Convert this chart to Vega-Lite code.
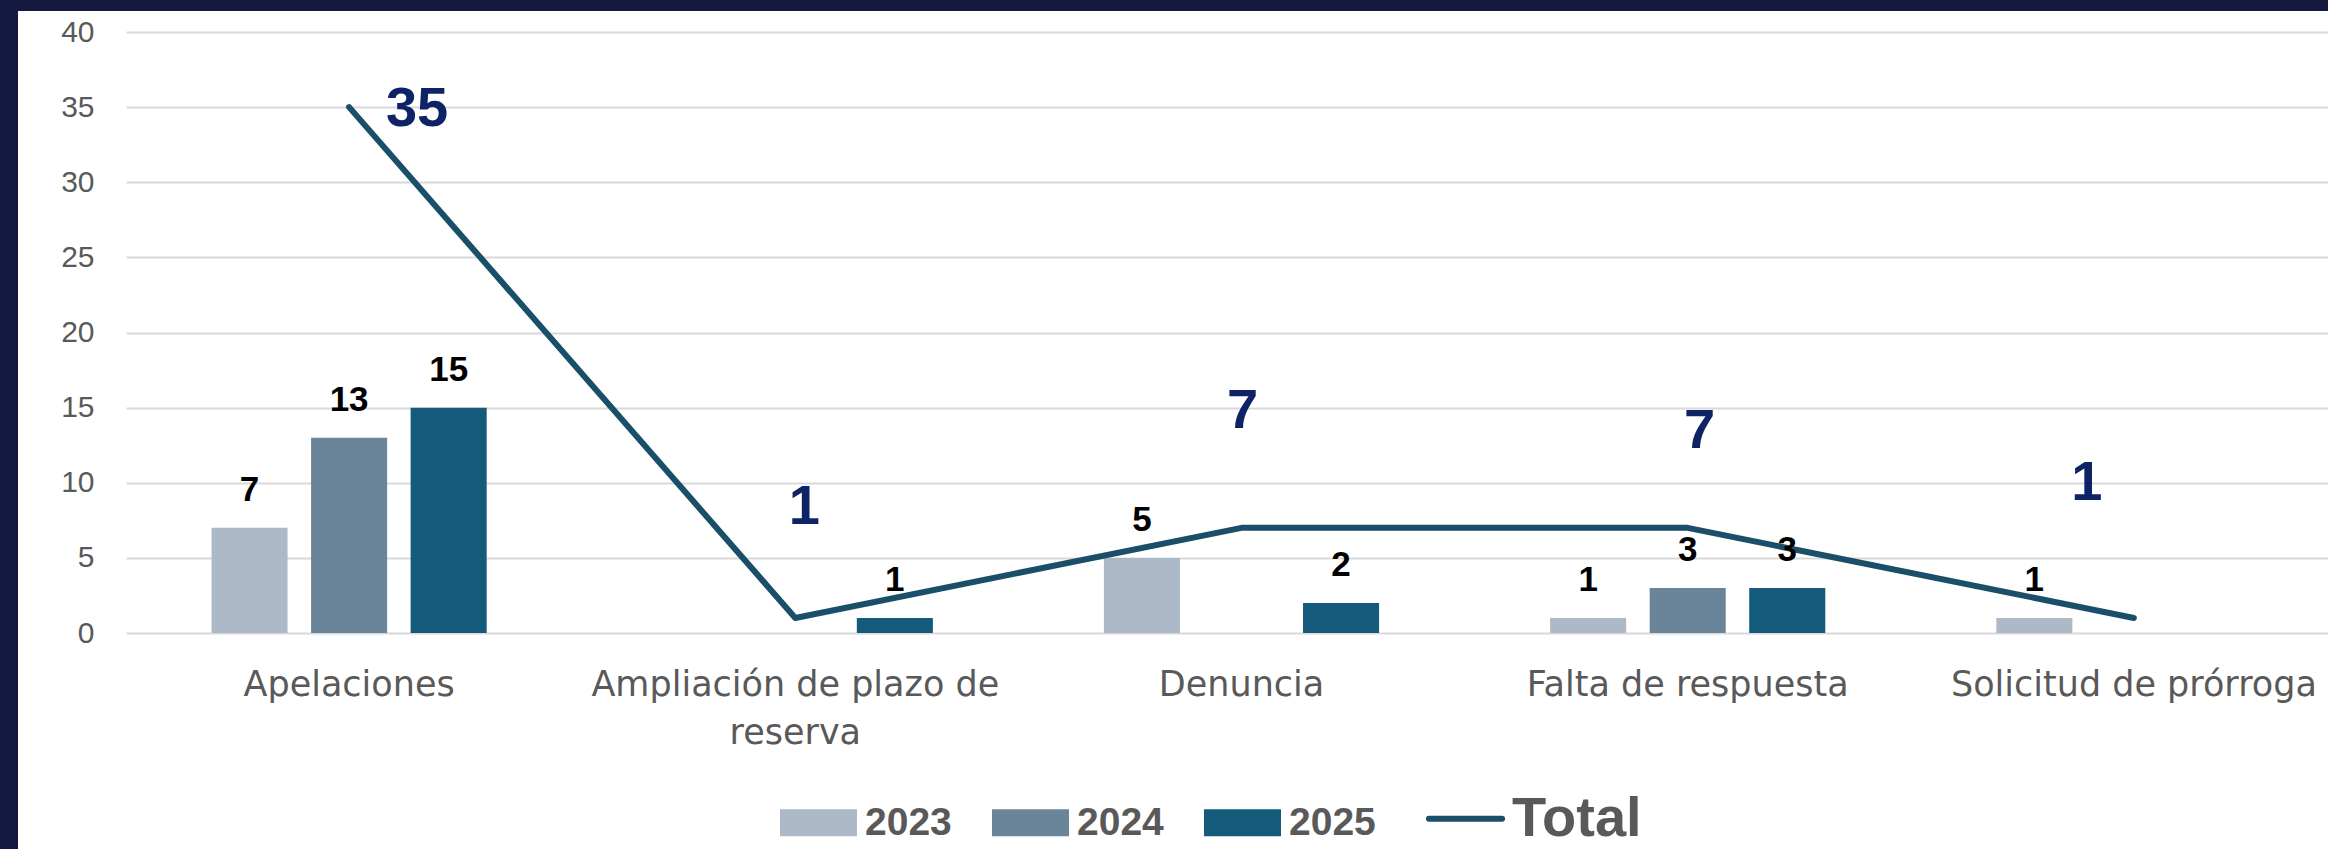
{
  "$schema": "https://vega.github.io/schema/vega-lite/v6.json",
  "width": 2310,
  "height": 838,
  "autosize": {"type": "none"},
  "padding": {"left": 18, "top": 11, "right": 0, "bottom": 0},
  "background": "#15183f",
  "config": {"view": {"fill": "white", "stroke": null}, "font": "Liberation Sans"},
  "datasets": {
    "bars": [
      {"categoria": "Apelaciones", "anio": "2023", "valor": 7},
      {"categoria": "Apelaciones", "anio": "2024", "valor": 13},
      {"categoria": "Apelaciones", "anio": "2025", "valor": 15},
      {"categoria": "Ampliación de plazo de reserva", "anio": "2025", "valor": 1},
      {"categoria": "Denuncia", "anio": "2023", "valor": 5},
      {"categoria": "Denuncia", "anio": "2025", "valor": 2},
      {"categoria": "Falta de respuesta", "anio": "2023", "valor": 1},
      {"categoria": "Falta de respuesta", "anio": "2024", "valor": 3},
      {"categoria": "Falta de respuesta", "anio": "2025", "valor": 3},
      {"categoria": "Solicitud de prórroga", "anio": "2023", "valor": 1}
    ],
    "totales": [
      {"categoria": "Apelaciones", "total": 35},
      {"categoria": "Ampliación de plazo de reserva", "total": 1},
      {"categoria": "Denuncia", "total": 7},
      {"categoria": "Falta de respuesta", "total": 7},
      {"categoria": "Solicitud de prórroga", "total": 1}
    ]
  },
  "layer": [
    {
      "data": {"name": "bars"},
      "mark": {"type": "bar"},
      "encoding": {
        "x": {
          "field": "categoria", "type": "nominal",
          "scale": {"domain": ["Apelaciones", "Ampliación de plazo de reserva", "Denuncia", "Falta de respuesta", "Solicitud de prórroga"], "range": [108, 2339], "paddingInner": 0, "paddingOuter": 0},
          "axis": {
            "orient": "bottom", "offset": -216, "labelPadding": 34, "ticks": false, "domain": false, "grid": false, "title": null,
            "labelFont": "DejaVu Sans", "labelFontSize": 35, "labelColor": "#595959", "labelLimit": 0, "labelLineHeight": 48, "labelAngle": 0,
            "labelExpr": "datum.label === 'Ampliación de plazo de reserva' ? ['Ampliación de plazo de', 'reserva'] : datum.label"
          }
        },
        "xOffset": {"field": "anio", "type": "nominal", "scale": {"paddingInner": 0.236, "paddingOuter": 0.859}},
        "y": {
          "field": "valor", "type": "quantitative",
          "scale": {"domain": [0, 40], "range": [622, 21], "nice": false},
          "axis": {
            "orient": "left", "offset": -76, "labelPadding": 0, "ticks": false, "domain": false, "grid": true,
            "gridColor": "#d9d9d9", "gridWidth": 2, "values": [0, 5, 10, 15, 20, 25, 30, 35, 40], "title": null,
            "labelFont": "Liberation Sans", "labelFontSize": 30, "labelColor": "#595959"
          }
        },
        "color": {
          "field": "anio", "type": "nominal",
          "scale": {"domain": ["2023", "2024", "2025", "Total"], "range": ["#adb9c6", "#6a8599", "#145a7a", "#1b4e68"]},
          "legend": {
            "orient": "none", "legendX": 781, "legendY": 788, "direction": "horizontal", "title": null,
            "padding": 0, "symbolSize": 5929, "symbolType": "M-1,-0.35H1V0.35H-1Z", "labelOffset": 27, "columnPadding": 40,
            "labelFont": "Liberation Sans", "labelFontWeight": "bold", "labelFontSize": 39, "labelColor": "#595959",
            "encode": {
              "symbols": {"update": {
                "shape": {"signal": "datum.value === 'Total' ? 'M-0.95,0H0.95' : 'M-1,-0.35H1V0.35H-1Z'"},
                "fill": {"signal": "datum.value === 'Total' ? 'transparent' : scale('color', datum.value)"},
                "stroke": {"signal": "datum.value === 'Total' ? scale('color', datum.value) : 'transparent'"},
                "strokeWidth": {"signal": "datum.value === 'Total' ? 6 : 0"},
                "strokeCap": {"value": "round"},
                "opacity": {"value": 1}
              }},
              "labels": {"update": {"fontSize": {"signal": "datum.value === 'Total' ? 56 : 39"}}}
            }
          }
        }
      }
    },
    {
      "data": {"name": "totales"},
      "mark": {"type": "line", "strokeWidth": 6, "strokeCap": "round", "strokeJoin": "round"},
      "encoding": {
        "x": {"field": "categoria", "type": "nominal"},
        "y": {"field": "total", "type": "quantitative"},
        "color": {"datum": "Total", "type": "nominal"}
      }
    },
    {
      "data": {"name": "bars"},
      "mark": {"type": "text", "fontSize": 35, "fontWeight": "bold", "color": "#000000", "baseline": "alphabetic", "dy": -27},
      "encoding": {
        "x": {"field": "categoria", "type": "nominal"},
        "xOffset": {"field": "anio", "type": "nominal"},
        "y": {"field": "valor", "type": "quantitative"},
        "text": {"field": "valor", "type": "quantitative"}
      }
    },
    {
      "data": {"name": "totales"},
      "transform": [{"filter": "datum.categoria === 'Apelaciones'"}],
      "mark": {"type": "text", "fontSize": 56, "fontWeight": "bold", "color": "#0d2366", "baseline": "middle", "align": "center", "dx": 68, "dy": 2},
      "encoding": {
        "x": {"field": "categoria", "type": "nominal"},
        "y": {"field": "total", "type": "quantitative"},
        "text": {"field": "total", "type": "quantitative"}
      }
    },
    {
      "data": {"name": "totales"},
      "transform": [{"filter": "datum.categoria === 'Ampliación de plazo de reserva'"}],
      "mark": {"type": "text", "fontSize": 56, "fontWeight": "bold", "color": "#0d2366", "baseline": "middle", "align": "center", "dx": 9, "dy": -111},
      "encoding": {
        "x": {"field": "categoria", "type": "nominal"},
        "y": {"field": "total", "type": "quantitative"},
        "text": {"field": "total", "type": "quantitative"}
      }
    },
    {
      "data": {"name": "totales"},
      "transform": [{"filter": "datum.categoria === 'Denuncia'"}],
      "mark": {"type": "text", "fontSize": 56, "fontWeight": "bold", "color": "#0d2366", "baseline": "middle", "align": "center", "dx": 1, "dy": -117},
      "encoding": {
        "x": {"field": "categoria", "type": "nominal"},
        "y": {"field": "total", "type": "quantitative"},
        "text": {"field": "total", "type": "quantitative"}
      }
    },
    {
      "data": {"name": "totales"},
      "transform": [{"filter": "datum.categoria === 'Falta de respuesta'"}],
      "mark": {"type": "text", "fontSize": 56, "fontWeight": "bold", "color": "#0d2366", "baseline": "middle", "align": "center", "dx": 12, "dy": -97},
      "encoding": {
        "x": {"field": "categoria", "type": "nominal"},
        "y": {"field": "total", "type": "quantitative"},
        "text": {"field": "total", "type": "quantitative"}
      }
    },
    {
      "data": {"name": "totales"},
      "transform": [{"filter": "datum.categoria === 'Solicitud de prórroga'"}],
      "mark": {"type": "text", "fontSize": 56, "fontWeight": "bold", "color": "#0d2366", "baseline": "middle", "align": "center", "dx": -47, "dy": -135},
      "encoding": {
        "x": {"field": "categoria", "type": "nominal"},
        "y": {"field": "total", "type": "quantitative"},
        "text": {"field": "total", "type": "quantitative"}
      }
    }
  ]
}
